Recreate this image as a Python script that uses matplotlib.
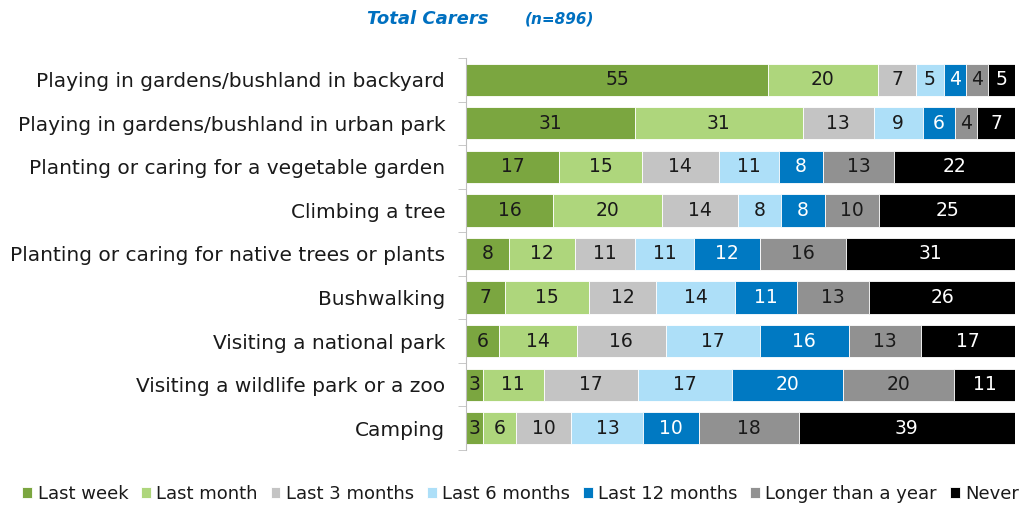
import matplotlib.pyplot as plt
import numpy as np

categories = [
    "Playing in gardens/bushland in backyard",
    "Playing in gardens/bushland in urban park",
    "Planting or caring for a vegetable garden",
    "Climbing a tree",
    "Planting or caring for native trees or plants",
    "Bushwalking",
    "Visiting a national park",
    "Visiting a wildlife park or a zoo",
    "Camping",
]
series_names = ["Last week", "Last month", "Last 3 months", "Last 6 months",
                "Last 12 months", "Longer than a year", "Never"]
last_week = [55, 31, 17, 16, 8, 7, 6, 3, 3]
last_month = [20, 31, 15, 20, 12, 15, 14, 11, 6]
last_3_months = [7, 13, 14, 14, 11, 12, 16, 17, 10]
last_6_months = [5, 9, 11, 8, 11, 14, 17, 17, 13]
last_12_months = [4, 6, 8, 8, 12, 11, 16, 20, 10]
longer_than_year = [4, 4, 13, 10, 16, 13, 13, 20, 18]
never = [5, 7, 22, 25, 31, 26, 17, 11, 39]

colors = ["#7BA640", "#AED67C", "#C4C4C4", "#ADDFF8", "#0079C2", "#919191", "#000000"]
text_colors = ["#1a1a1a", "#1a1a1a", "#1a1a1a", "#1a1a1a", "white", "#1a1a1a", "white"]

plt.rcParams['font.family'] = ['DejaVu Sans']

data = np.array([last_week, last_month, last_3_months, last_6_months,
                 last_12_months, longer_than_year, never], dtype=float)
totals = data.sum(axis=0)
shares = data / totals * 100

fig = plt.figure(figsize=(10.21, 5.09), dpi=100)
ax = fig.add_axes([466 / 1021, 1 - 450 / 509, 549 / 1021, (450 - 58) / 509])

y = np.arange(len(categories))
left = np.zeros(len(categories))
for i, name in enumerate(series_names):
    ax.barh(y, shares[i], left=left, height=0.74, color=colors[i],
            label=name, edgecolor='white', linewidth=0.6)
    for j in range(len(categories)):
        ax.text(left[j] + shares[i][j] / 2, y[j], f"{int(data[i][j])}",
                ha='center', va='center', fontsize=13.5, color=text_colors[i])
    left += shares[i]

ax.set_xlim(0, 100)
ax.set_ylim(len(categories) - 0.5, -0.5)
ax.set_yticks(y)
ax.set_yticklabels(categories, fontsize=14.5, color='#1a1a1a')
ax.tick_params(axis='y', length=0, pad=15)
ax.set_yticks(np.arange(-0.5, len(categories)), minor=True)
ax.tick_params(axis='y', which='minor', length=6, color='#bfbfbf', direction='out')
ax.set_xticks([])
for s in ['top', 'right', 'bottom']:
    ax.spines[s].set_visible(False)
ax.spines['left'].set_color('#bfbfbf')

fig.text(0.359, 0.962, "Total Carers", ha='left', va='center', fontsize=13,
         color='#0070C0', fontweight='bold', style='italic')
fig.text(0.514, 0.962, "(n=896)", ha='left', va='center', fontsize=11,
         color='#0070C0', fontweight='bold', style='italic')

fig.legend(loc='center', bbox_to_anchor=(0.51, 0.03), ncol=7, frameon=False,
           fontsize=13, handlelength=0.55, handleheight=0.55, handletextpad=0.3,
           columnspacing=0.7, labelcolor='#1a1a1a')

fig.savefig("out.png", dpi=100)
